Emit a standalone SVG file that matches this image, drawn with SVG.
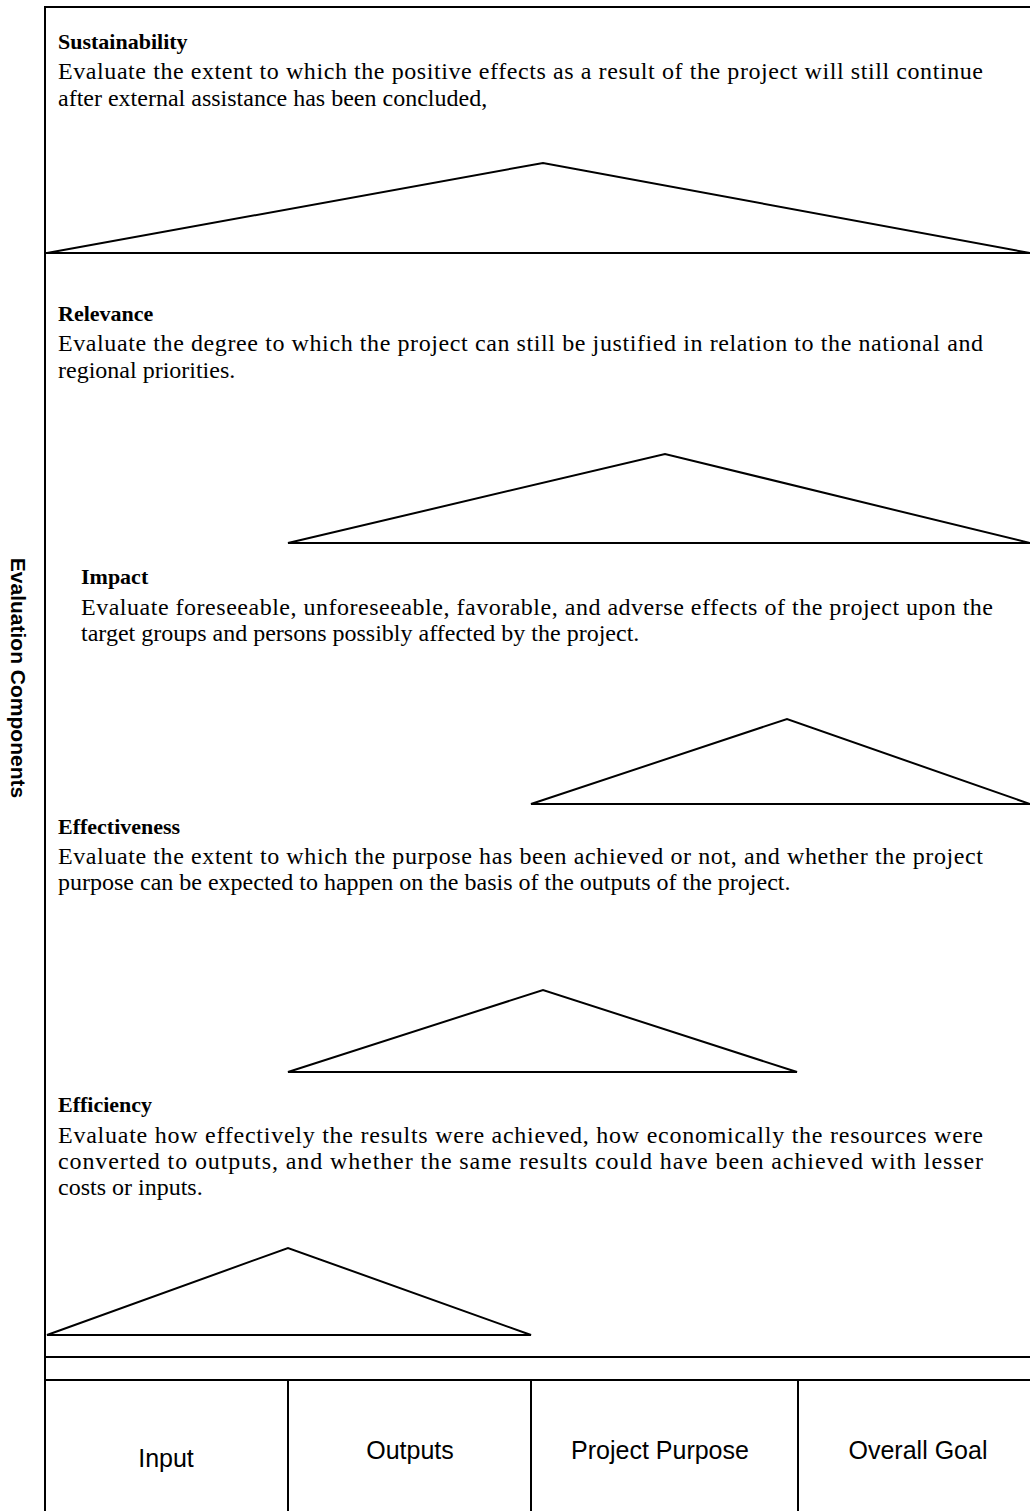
<svg xmlns="http://www.w3.org/2000/svg" width="1030" height="1511" viewBox="0 0 1030 1511">
<style>
  .frame { stroke: #000; stroke-width: 2; fill: none; }
  .tri { stroke: #000; stroke-width: 2; fill: none; stroke-linejoin: miter; }
  .title { font-family: "Liberation Serif", "Times New Roman", serif; font-weight: bold; font-size: 22px; fill: #000; }
  .body { font-family: "Liberation Serif", "Times New Roman", serif; font-size: 24px; fill: #000; }
  .cell { font-family: "Liberation Sans", Arial, sans-serif; font-size: 25px; fill: #000; text-anchor: middle; }
  .side { font-family: "Liberation Sans", Arial, sans-serif; font-size: 21px; font-weight: bold; fill: #000; text-anchor: middle; }
</style>
<rect width="1030" height="1511" fill="#fff"/>

<g id="frame">
  <line class="frame" x1="45" y1="7" x2="1030" y2="7"/>
  <line class="frame" x1="45" y1="6" x2="45" y2="1511"/>
  <line class="frame" x1="45" y1="1357" x2="1030" y2="1357"/>
</g>

<g id="side-label">
  <text class="side" transform="translate(18,678) rotate(90)" x="0" y="7">Evaluation Components</text>
</g>

<g id="sustainability">
  <text class="title" x="58" y="49">Sustainability</text>
  <text class="body" x="58" y="79" textLength="925" lengthAdjust="spacing">Evaluate the extent to which the positive effects as a result of the project will still continue</text>
  <text class="body" x="58" y="106">after external assistance has been concluded,</text>
  <polyline class="tri" points="47,253 543,163 1030,253"/>
  <line class="frame" x1="45" y1="253" x2="1030" y2="253"/>
</g>

<g id="relevance">
  <text class="title" x="58" y="321">Relevance</text>
  <text class="body" x="58" y="351" textLength="925" lengthAdjust="spacing">Evaluate the degree to which the project can still be justified in relation to the national and</text>
  <text class="body" x="58" y="378">regional priorities.</text>
  <polygon class="tri" points="288,543 665,454 1030,543"/>
</g>

<g id="impact">
  <text class="title" x="81" y="584">Impact</text>
  <text class="body" x="81" y="615" textLength="912" lengthAdjust="spacing">Evaluate foreseeable, unforeseeable, favorable, and adverse effects of the project upon the</text>
  <text class="body" x="81" y="641">target groups and persons possibly affected by the project.</text>
  <polygon class="tri" points="531,804 787,719 1030,804"/>
</g>

<g id="effectiveness">
  <text class="title" x="58" y="834">Effectiveness</text>
  <text class="body" x="58" y="864" textLength="925" lengthAdjust="spacing">Evaluate the extent to which the purpose has been achieved or not, and whether the project</text>
  <text class="body" x="58" y="890">purpose can be expected to happen on the basis of the outputs of the project.</text>
  <polygon class="tri" points="288,1072 543,990 797,1072"/>
</g>

<g id="efficiency">
  <text class="title" x="58" y="1112">Efficiency</text>
  <text class="body" x="58" y="1143" textLength="925" lengthAdjust="spacing">Evaluate how effectively the results were achieved, how economically the resources were</text>
  <text class="body" x="58" y="1169" textLength="925" lengthAdjust="spacing">converted to outputs, and whether the same results could have been achieved with lesser</text>
  <text class="body" x="58" y="1195">costs or inputs.</text>
  <polygon class="tri" points="47,1335 288,1248 531,1335"/>
</g>

<g id="table">
  <line class="frame" x1="45" y1="1380" x2="1030" y2="1380"/>
  <line class="frame" x1="288" y1="1380" x2="288" y2="1511"/>
  <line class="frame" x1="531" y1="1380" x2="531" y2="1511"/>
  <line class="frame" x1="798" y1="1380" x2="798" y2="1511"/>
</g>
<g id="cell-input"><text class="cell" x="166" y="1467">Input</text></g>
<g id="cell-outputs"><text class="cell" x="410" y="1459">Outputs</text></g>
<g id="cell-purpose"><text class="cell" x="660" y="1459">Project Purpose</text></g>
<g id="cell-goal"><text class="cell" x="918" y="1459">Overall Goal</text></g>
<g id="connectors"></g>
</svg>
